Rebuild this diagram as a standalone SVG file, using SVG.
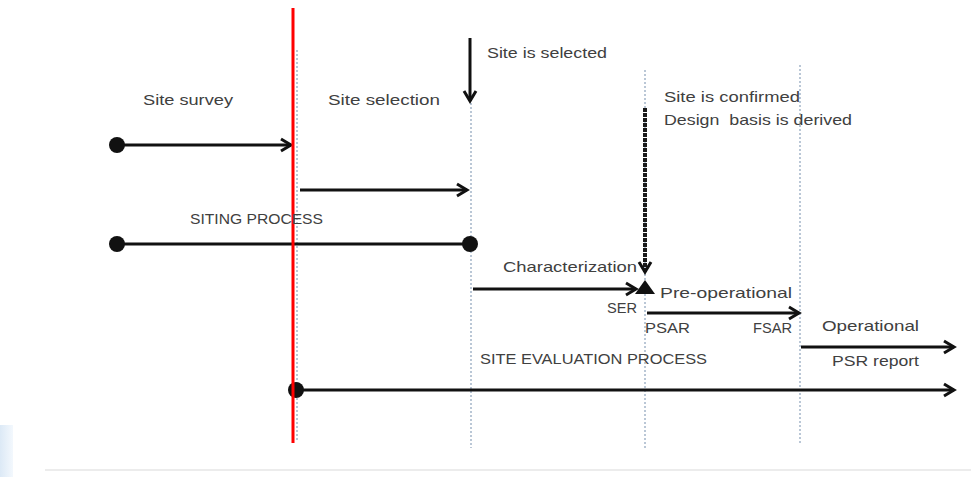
<svg xmlns="http://www.w3.org/2000/svg" width="971" height="477" viewBox="0 0 971 477">
<defs>
<style>
.t{font-family:"Liberation Sans",Arial,sans-serif;font-size:15px;fill:#404040}
.a{stroke:#111;stroke-width:3;fill:none}
.g{stroke:#8da2bb;stroke-width:1.2;stroke-dasharray:2 2;fill:none}
.d{fill:#111}
</style>
<marker id="ah" markerUnits="userSpaceOnUse" markerWidth="16" markerHeight="16" refX="13" refY="8" orient="auto" viewBox="0 0 16 16">
<polyline points="3,2 13,8 3,14" fill="none" stroke="#111" stroke-width="3"/>
</marker>
<linearGradient id="lb" x1="0" y1="0" x2="1" y2="0">
<stop offset="0" stop-color="#dce9f6"/><stop offset="1" stop-color="#f3f8fd"/>
</linearGradient>
</defs>
<rect width="971" height="477" fill="#fff"/>
<rect x="0" y="425" width="13" height="52" fill="url(#lb)"/>
<line x1="45" y1="470" x2="971" y2="470" stroke="#ececec" stroke-width="2"/>
<g id="milestones">
<line class="g" x1="297" y1="50" x2="297" y2="440"/>
<line class="g" x1="471" y1="95" x2="471" y2="448"/>
<line class="g" x1="645" y1="70" x2="645" y2="450"/>
<line class="g" x1="800" y1="65" x2="800" y2="445"/>
</g>
<g id="connectors">
<line class="a" x1="117" y1="145" x2="291" y2="145" marker-end="url(#ah)"/>
<line class="a" x1="300" y1="190" x2="467" y2="190" marker-end="url(#ah)"/>
<line class="a" x1="117" y1="244" x2="470" y2="244"/>
<line class="a" x1="470" y1="38" x2="470" y2="101" marker-end="url(#ah)"/>
<line x1="645" y1="108" x2="645" y2="272" stroke="#1a1a1a" stroke-width="4" stroke-dasharray="4 1" marker-end="url(#ah)"/>
<line class="a" x1="473" y1="289" x2="636" y2="289" marker-end="url(#ah)"/>
<line class="a" x1="647" y1="313" x2="799" y2="313" marker-end="url(#ah)"/>
<line class="a" x1="801" y1="347" x2="954" y2="347" marker-end="url(#ah)"/>
<line class="a" x1="296" y1="390" x2="954" y2="390" marker-end="url(#ah)"/>
</g>
<g id="nodes">
<circle class="d" cx="117" cy="145" r="8"/>
<circle class="d" cx="117" cy="244" r="8"/>
<circle class="d" cx="470" cy="244" r="8"/>
<circle class="d" cx="296" cy="390" r="8"/>
<polygon class="d" points="635,294 645,280 655,294"/>
</g>
<line x1="293" y1="8" x2="293" y2="443" stroke="#ff0000" stroke-width="3"/>
<g id="labels">
<text class="t" x="143" y="105" textLength="90" lengthAdjust="spacingAndGlyphs">Site survey</text>
<text class="t" x="328" y="105" textLength="112" lengthAdjust="spacingAndGlyphs">Site selection</text>
<text class="t" x="487" y="58" textLength="120" lengthAdjust="spacingAndGlyphs">Site is selected</text>
<text class="t" x="664" y="102" textLength="136" lengthAdjust="spacingAndGlyphs">Site is confirmed</text>
<text class="t" x="664" y="125" textLength="188" lengthAdjust="spacingAndGlyphs" xml:space="preserve">Design  basis is derived</text>
<text class="t" x="190" y="224" textLength="133" lengthAdjust="spacingAndGlyphs">SITING PROCESS</text>
<text class="t" x="503" y="272" textLength="134" lengthAdjust="spacingAndGlyphs">Characterization</text>
<text class="t" x="660" y="298" textLength="132" lengthAdjust="spacingAndGlyphs">Pre-operational</text>
<text class="t" x="607" y="313" textLength="30" lengthAdjust="spacingAndGlyphs">SER</text>
<text class="t" x="645" y="333" textLength="45" lengthAdjust="spacingAndGlyphs">PSAR</text>
<text class="t" x="753" y="333" textLength="39" lengthAdjust="spacingAndGlyphs">FSAR</text>
<text class="t" x="822" y="331" textLength="97" lengthAdjust="spacingAndGlyphs">Operational</text>
<text class="t" x="832" y="366" textLength="87" lengthAdjust="spacingAndGlyphs">PSR report</text>
<text class="t" x="480" y="364" textLength="227" lengthAdjust="spacingAndGlyphs">SITE EVALUATION PROCESS</text>
</g>
</svg>
